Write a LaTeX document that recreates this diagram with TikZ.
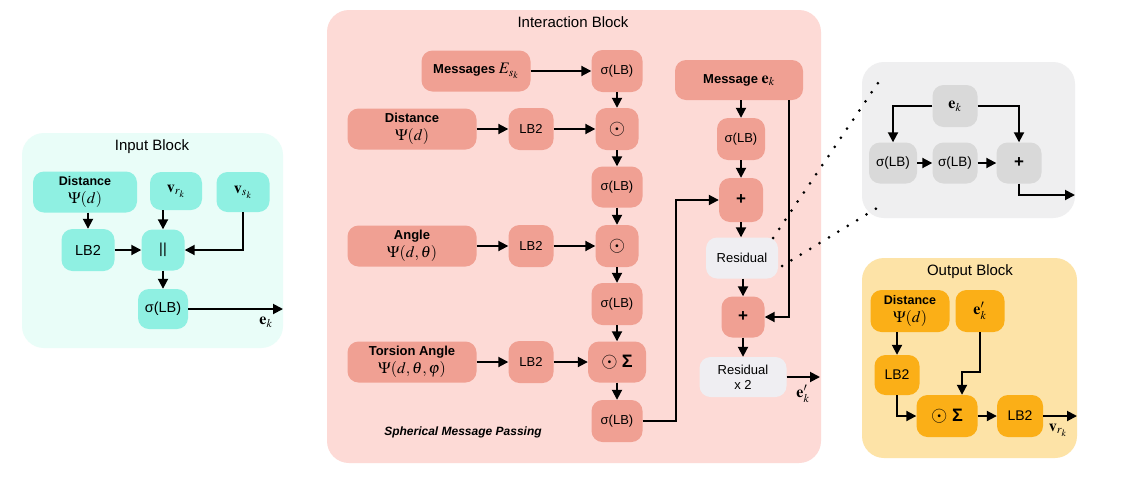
\documentclass[tikz,border=0pt]{standalone}
\usepackage{mathptmx}
\usepackage[no-math]{fontspec}
\setmainfont{Liberation Sans}
\usetikzlibrary{arrows.meta}
\definecolor{inbg}{HTML}{E9FDF8}
\definecolor{incol}{HTML}{8FF0E2}
\definecolor{itbg}{HTML}{FDDAD6}
\definecolor{itcol}{HTML}{F0A093}
\definecolor{rescol}{HTML}{EFEEF2}
\definecolor{gbg}{HTML}{EFEFF0}
\definecolor{gcol}{HTML}{D9D9D9}
\definecolor{obg}{HTML}{FDE3A7}
\definecolor{ocol}{HTML}{FBAF17}
\newcommand\mth[1]{{\fontsize{16}{18}\selectfont$#1$}}
\newcommand\odt{{\fontsize{21}{22}\selectfont$\odot$}}
\newcommand\sgm{{\fontsize{18}{20}\selectfont\bfseries Σ}}
\begin{document}
\begin{tikzpicture}[x=1pt,y=-1pt,
  arr/.style={line width=1.9pt,-{Triangle[length=10pt,width=10pt]}},
  bx/.style={rounded corners=11pt,inner sep=0pt,align=center,minimum height=41pt},
  blk/.style={rounded corners=22pt},
  ttl/.style={font=\fontsize{15}{17}\selectfont},
  inb/.style={bx,fill=incol,font=\fontsize{14.5}{16}\selectfont},
  itb/.style={bx,fill=itcol,font=\fontsize{13}{15}\selectfont},
  rsb/.style={bx,fill=rescol,font=\fontsize{13}{15}\selectfont},
  gb/.style={bx,fill=gcol,font=\fontsize{13.5}{15}\selectfont},
  ob/.style={bx,fill=ocol,font=\fontsize{14}{16}\selectfont},
  lbl/.style={font=\fontsize{13}{15}\selectfont},
  dotl/.style={line width=3pt,line cap=round,dash pattern=on 0pt off 11pt}]
\useasboundingbox (0,0) rectangle (1121,480);
\fill[white] (0,0) rectangle (1121,480);

% ---------------- Input block
\fill[inbg,blk] (22,133) rectangle (283,348);
\node[ttl] (inT) at (152,147) {Input Block};
\node[inb,minimum width=104pt,font=\fontsize{12.5}{15}\selectfont] (idist) at (85,192) {\textbf{Distance}\\[3pt]\mth{\Psi(d)}};
\node[inb,minimum width=52pt,minimum height=38pt] (vr) at (176,191) {\mth{\mathbf{v}_{r_k}}};
\node[inb,minimum width=53pt,minimum height=40pt] (vs) at (243,192) {\mth{\mathbf{v}_{s_k}}};
\node[inb,minimum width=53pt,minimum height=42pt] (ilb) at (88,250) {LB2};
\node[inb,minimum width=43pt] (cat) at (163,250) {||};
\node[inb,minimum width=50pt,minimum height=40pt] (isig) at (163,309) {σ(LB)};
\coordinate (iout) at (283,309);
\node[lbl] (iek) at (266,322) {\mth{\mathbf{e}_k}};
\draw[arr] (ilb.north |- idist.south) -- (ilb.north);
\draw[arr] (cat.north |- vr.south) -- (cat.north);
\draw[arr] (ilb.east) -- (cat.west);
\draw[arr] (vs.south) |- (cat.east);
\draw[arr] (cat.south) -- (isig.north);
\draw[arr] (isig.east) -- (iout);

% ---------------- Interaction block
\fill[itbg,blk] (327,10) rectangle (821,463);
\node[ttl] (itT) at (573,22) {Interaction Block};
\node[itb,minimum width=109pt] (msgs) at (476,71) {\textbf{Messages} \mth{E_{s_k}}};
\node[itb,minimum width=129pt] (adist) at (412,129) {\textbf{Distance}\\[3pt]\mth{\Psi(d)}};
\node[itb,minimum width=45pt,minimum height=42pt] (lba) at (531,129) {LB2};
\node[itb,minimum width=129pt] (angle) at (412,246) {\textbf{Angle}\\[3pt]\mth{\Psi(d,\theta)}};
\node[itb,minimum width=45pt,minimum height=42pt] (lbb) at (531,246) {LB2};
\node[itb,minimum width=129pt] (tors) at (412,362) {\textbf{Torsion Angle}\\[3pt]\mth{\Psi(d,\theta,\varphi)}};
\node[itb,minimum width=45pt,minimum height=42pt] (lbc) at (531,362) {LB2};
\node[font=\fontsize{12}{14}\selectfont\bfseries\itshape] (smp) at (463,432) {Spherical Message Passing};

\node[itb,minimum width=51pt,minimum height=42pt] (s1) at (617,71) {σ(LB)};
\node[itb,minimum width=43pt,minimum height=42pt] (o1) at (617,129) {\odt};
\node[itb,minimum width=51pt,minimum height=41pt] (s2) at (617,187) {σ(LB)};
\node[itb,minimum width=43pt,minimum height=42pt] (o2) at (617,246) {\odt};
\node[itb,minimum width=51pt,minimum height=42pt] (s3) at (617,304) {σ(LB)};
\node[itb,minimum width=58pt,minimum height=41pt] (os) at (617,362) {\odt\,\,\sgm};
\node[itb,minimum width=51pt,minimum height=42pt] (s4) at (617,421) {σ(LB)};

\node[itb,minimum width=128pt,minimum height=40pt] (msg) at (739,80) {\textbf{Message} \mth{\mathbf{e}_k}};
\node[itb,minimum width=48pt,minimum height=42pt] (s5) at (741,139) {σ(LB)};
\node[itb,minimum width=44pt,minimum height=44pt,font=\fontsize{17}{18}\selectfont] (p1) at (741,200) {\textbf{+}};
\node[rsb,minimum width=72pt,minimum height=41pt] (res1) at (742,258) {Residual};
\node[itb,minimum width=43pt,minimum height=41pt,font=\fontsize{17}{18}\selectfont] (p2) at (743,317) {\textbf{+}};
\node[rsb,minimum width=87pt,minimum height=40pt] (res2) at (743,377) {Residual\\x 2};
\coordinate (ekout) at (820,377);
\node[lbl] (ekl) at (803,394) {\mth{\mathbf{e}'_k}};
\coordinate (t1) at (676,0);
\coordinate (t2) at (789,0);

\draw[arr] (msgs.east) -- (s1.west);
\draw[arr] (adist.east) -- (lba.west);
\draw[arr] (lba.east) -- (o1.west);
\draw[arr] (angle.east) -- (lbb.west);
\draw[arr] (lbb.east) -- (o2.west);
\draw[arr] (tors.east) -- (lbc.west);
\draw[arr] (lbc.east) -- (os.west);
\draw[arr] (s1.south) -- (o1.north);
\draw[arr] (o1.south) -- (s2.north);
\draw[arr] (s2.south) -- (o2.north);
\draw[arr] (o2.south) -- (s3.north);
\draw[arr] (s3.south) -- (os.north);
\draw[arr] (os.south) -- (s4.north);
\draw[arr] (s4.east) -- (s4.east -| t1) |- (p1.west);
\draw[arr] (s5.north |- msg.south) -- (s5.north);
\draw[arr] (s5.south) -- (p1.north);
\draw[arr] (p1.south) -- (res1.north -| p1.south);
\draw[arr] (res1.south -| p2.north) -- (p2.north);
\draw[arr] (p2.south) -- (res2.north);
\draw[arr] (msg.south -| t2) |- (p2.east);
\draw[arr] (res2.east) -- (ekout);

% ---------------- Residual detail block
\fill[gbg,blk] (862,62) rectangle (1075,218);
\node[gb,minimum width=45pt,minimum height=42pt] (ge) at (955,106) {\mth{\mathbf{e}_k}};
\node[gb,minimum width=48pt] (gs1) at (893,163) {σ(LB)};
\node[gb,minimum width=45pt] (gs2) at (955,163) {σ(LB)};
\node[gb,minimum width=45pt,font=\fontsize{17}{18}\selectfont] (gp) at (1019,163) {\textbf{+}};
\coordinate (gout) at (1075,195);
\draw[arr] (ge.west) -| (gs1.north);
\draw[arr] (ge.east) -| (gp.north);
\draw[arr] (gs1.east) -- (gs2.west);
\draw[arr] (gs2.east) -- (gp.west);
\draw[arr] (gp.south) |- (gout);

% dotted zoom lines
\coordinate (d1a) at (773,238);
\coordinate (d1b) at (882,77);
\coordinate (d2a) at (782,266);
\coordinate (d2b) at (882,205);
\draw[dotl] (d1a) -- (d1b);
\draw[dotl] (d2a) -- (d2b);

% ---------------- Output block
\fill[obg,blk] (862,258) rectangle (1077,458);
\node[ttl] (oT) at (970,272) {Output Block};
\node[ob,minimum width=79pt,minimum height=42pt,font=\fontsize{12.5}{15}\selectfont] (odist) at (910,311) {\textbf{Distance}\\[3pt]\mth{\Psi(d)}};
\node[ob,minimum width=49pt,minimum height=42pt] (oek) at (980,311) {\mth{\mathbf{e}'_k}};
\node[ob,minimum width=45pt,minimum height=40pt] (olb) at (897,375) {LB2};
\node[ob,minimum width=61pt,minimum height=42pt] (oos) at (947,416) {\odt\,\,\sgm};
\node[ob,minimum width=46pt,minimum height=42pt] (olb2) at (1020,416) {LB2};
\coordinate (oc) at (962,372);
\coordinate (vout) at (1077,416);
\node[lbl] (vrl) at (1058,430) {\mth{\mathbf{v}_{r_k}}};
\draw[arr] (olb.north |- odist.south) -- (olb.north);
\draw[arr] (olb.south) |- (oos.west);
\draw[arr] (oek.south) |- (oc) -- (oc |- oos.north);
\draw[arr] (oos.east) -- (olb2.west);
\draw[arr] (olb2.east) -- (vout);
\end{tikzpicture}
\end{document}
